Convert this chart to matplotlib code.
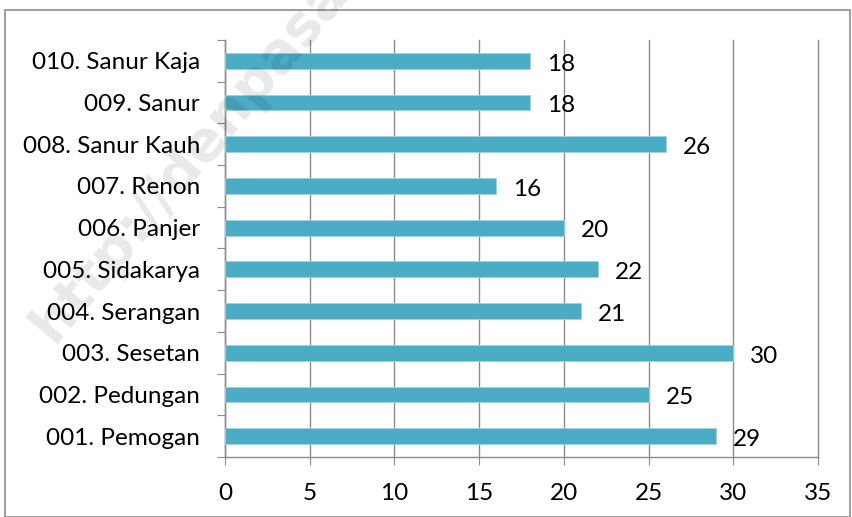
import matplotlib
matplotlib.use('Agg')
import matplotlib.pyplot as plt
from matplotlib.patches import Rectangle

categories = ['001. Pemogan', '002. Pedungan', '003. Sesetan', '004. Serangan',
              '005. Sidakarya', '006. Panjer', '007. Renon', '008. Sanur Kauh',
              '009. Sanur', '010. Sanur Kaja']
values = [29, 25, 30, 21, 22, 20, 16, 26, 18, 18]
x_ticks = [0, 5, 10, 15, 20, 25, 30, 35]

plt.rcParams['font.family'] = ['Lato', 'DejaVu Sans']
FS = 17.5

fig = plt.figure(figsize=(8.52, 5.17), dpi=100)
fig.patches.append(Rectangle((5 / 852, 0), 845 / 852, 507 / 517, transform=fig.transFigure,
                             fill=False, edgecolor='#8c8c8c', linewidth=1.2))

ax = fig.add_axes([225 / 852, 1 - 457 / 517, 593 / 852, 417 / 517])
ax.patch.set_alpha(0)
pos = list(range(len(categories)))
ax.barh(pos, values, height=0.38, color='#4bacc6', edgecolor='#9fd3e2', linewidth=0.6, zorder=3)
for p, v in zip(pos, values):
    ax.text(v + 1, p - 0.08, str(v), va='center', ha='left', fontsize=FS, color='black')

ax.set_xlim(0, 35)
ax.set_ylim(-0.5, len(categories) - 0.5)
ax.set_xticks(x_ticks)
ax.set_xticklabels([str(t) for t in x_ticks], fontsize=FS)
ax.set_yticks([p - 0.5 for p in pos] + [len(categories) - 0.5])
ax.set_yticklabels([])
ax.set_yticks(pos, minor=True)
ax.set_yticklabels(categories, minor=True, fontsize=FS)
ax.tick_params(axis='y', which='minor', length=0, pad=18)
ax.tick_params(axis='y', which='major', length=6, color='#8c8c8c')
ax.tick_params(axis='x', length=6, color='#8c8c8c', pad=13)
ax.grid(axis='x', color='#8c8c8c', linewidth=1.0, zorder=0, clip_on=False)
for s in ['top', 'right']:
    ax.spines[s].set_visible(False)
for s in ['left', 'bottom']:
    ax.spines[s].set_color('#8c8c8c')
    ax.spines[s].set_linewidth(1.0)

# watermark, drawn on top with low alpha
fig.text(42 / 852, 1 - 335 / 517, 'http://denpasarkota.bps.go.id', rotation=50,
         rotation_mode='anchor', fontsize=40, fontweight='bold', family='DejaVu Sans',
         color='black', alpha=0.09, ha='left', va='center', zorder=10)

fig.savefig('out.png', dpi=100)
